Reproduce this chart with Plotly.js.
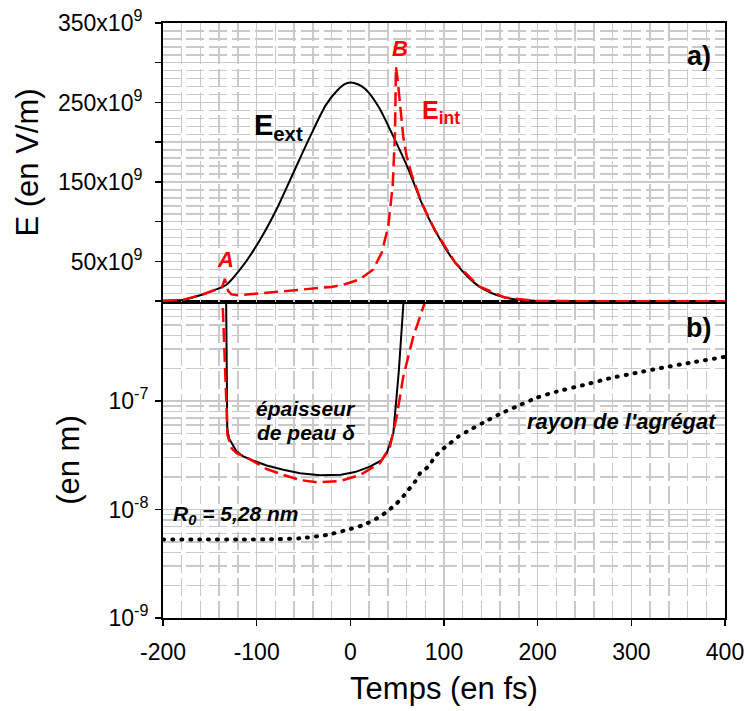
<!DOCTYPE html>
<html>
<head>
<meta charset="utf-8">
<script src="https://cdn.plot.ly/plotly-3.0.1.min.js"></script>
<style>html,body{margin:0;padding:0;background:#fff;}</style>
</head>
<body>
<div id="chart" style="width:745px;height:711px;"></div>
<script>
// ---- panel a) : fields, in units of 10^9 V/m ----
var tExt = [-200, -188, -179, -157, -145, -132, -115, -97, -79, -61, -43, -26, -14, -6, 0, 8, 16, 30, 46, 62, 76, 90, 112, 137, 165, 197, 250, 300, 400];
var eExt = [0.5, 1.0, 1.6, 8.8, 14, 21, 44, 76, 115, 161, 207, 247, 265, 273, 275, 273, 267, 245, 207, 166, 124, 90, 48.5, 19, 4.6, 0.4, 0, 0, 0];

var tInt = [-200, -188, -179, -157, -145, -137, -134, -130.5, -127, -120, -105, -86, -60, -43, -20, -5.7, 10.3, 24.5, 33.5, 40.5, 45.2, 47.7, 48.7, 50.2, 51.5, 53, 56.5, 60, 65, 76, 90, 112, 137, 165, 197, 250, 300, 400];
var eInt = [0.5, 1.0, 1.6, 8.8, 14, 17.5, 28, 13, 8.5, 7.5, 9, 11, 13.5, 15, 18, 21.3, 27.6, 40, 61, 94.5, 145, 212, 295, 282, 265, 249, 207, 183, 161, 124, 90, 48.5, 19, 4.6, 0.4, 0, 0, 0];

// ---- panel b) : lengths in m ----
var tSkinExt = [-132.7, -131.4, -129.5, -126.7, -121.3, -114.3, -103.6, -89.3, -71.6, -53.7, -32.4, -10, 5, 21, 33.5, 38.8, 42.3, 45.9, 51.8, 56.5, 57.8];
var skinExt = [1.1e-6, 5.6e-8, 4.5e-8, 4.07e-8, 3.41e-8, 3.09e-8, 2.82e-8, 2.54e-8, 2.32e-8, 2.16e-8, 2.07e-8, 2.09e-8, 2.21e-8, 2.48e-8, 2.85e-8, 3.29e-8, 4.07e-8, 5.03e-8, 1.9e-7, 7.9e-7, 1.1e-6];

var tSkinInt = [-136.8, -136.3, -132, -131.3, -126.7, -121.3, -107, -89.3, -71.6, -53.7, -35.9, -11, 10.3, 31.7, 42.3, 49.5, 56.5, 67.2, 78.6, 81];
var skinInt = [1.1e-6, 7.9e-7, 7.97e-8, 4.87e-8, 3.66e-8, 3.3e-8, 2.9e-8, 2.36e-8, 2.08e-8, 1.87e-8, 1.78e-8, 1.83e-8, 2.08e-8, 2.67e-8, 3.79e-8, 7.16e-8, 1.67e-7, 3.92e-7, 7.67e-7, 1.05e-6];

var tRad = [-200, -160, -120, -80, -53.7, -25.2, -3.9, 13.8, 31.7, 38.8, 47.7, 54.8, 61.9, 69, 74.4, 83.2, 90.4, 97.5, 106.4, 115.3, 124.2, 141.9, 159.8, 177.6, 199, 220.3, 248.7, 277.2, 305.7, 334.1, 362.6, 400];
var rad = [5.28e-9, 5.28e-9, 5.29e-9, 5.32e-9, 5.43e-9, 5.82e-9, 6.48e-9, 7.19e-9, 8.59e-9, 9.55e-9, 1.10e-8, 1.27e-8, 1.51e-8, 1.80e-8, 2.16e-8, 2.48e-8, 3.07e-8, 3.53e-8, 4.07e-8, 4.69e-8, 5.21e-8, 6.3e-8, 7.6e-8, 8.9e-8, 1.07e-7, 1.22e-7, 1.40e-7, 1.62e-7, 1.82e-7, 2.03e-7, 2.25e-7, 2.55e-7];

// ---- tick labels ----
var xTicks = [-200, -100, 0, 100, 200, 300, 400];
var xTickText = ['-200', '-100', '0', '100', '200', '300', '400'];
var eTicks = [0, 50, 100, 150, 200, 250, 300, 350];
var eTickText = ['', '50x10<sup>9</sup>', '', '150x10<sup>9</sup>', '', '250x10<sup>9</sup>', '', '350x10<sup>9</sup>'];
var lTicks = [1e-9, 1e-8, 1e-7, 1e-6];
var lTickText = ['10<sup>-9</sup>', '10<sup>-8</sup>', '10<sup>-7</sup>', '10<sup>-6</sup>'];

var FONT = 'Liberation Sans, Arial, Helvetica, sans-serif';
var GRID = '#c9c9c9';

var logMinor = [];
[-9, -8, -7].forEach(function (d) { for (var k = 2; k <= 9; k++) logMinor.push(k * Math.pow(10, d)); });

var traces = [
  {x: tExt, y: eExt, xaxis: 'x2', yaxis: 'y2', mode: 'lines', line: {color: '#000', width: 2, shape: 'spline', smoothing: 0.8}, hoverinfo: 'skip'},
  {x: tInt, y: eInt, xaxis: 'x2', yaxis: 'y2', mode: 'lines', line: {color: '#ff0000', width: 2.5, dash: '14px,6px'}, hoverinfo: 'skip'},
  {x: tSkinExt, y: skinExt, xaxis: 'x', yaxis: 'y', mode: 'lines', line: {color: '#000', width: 2}, hoverinfo: 'skip'},
  {x: tSkinInt, y: skinInt, xaxis: 'x', yaxis: 'y', mode: 'lines', line: {color: '#ff0000', width: 2.5, dash: '14px,6px'}, hoverinfo: 'skip'},
  {x: tRad, y: rad, xaxis: 'x', yaxis: 'y', mode: 'lines', line: {color: '#000', width: 4, dash: '1px,8px', shape: 'spline', smoothing: 0.6}, hoverinfo: 'skip'}
];

function ann(x, y, xref, yref, text, size, color, xanchor) {
  return {x: x, y: y, xref: xref, yref: yref, text: text, showarrow: false,
          font: {family: FONT, size: size, color: color}, xanchor: xanchor || 'center', yanchor: 'middle'};
}

var annotations = [
  ann(-105, 219, 'x2', 'y2', '<b>E<sub>ext</sub></b>', 29, '#000', 'left'),
  ann(74.4, 238, 'x2', 'y2', '<b>E<sub>int</sub></b>', 25, '#ff0000', 'left'),
  ann(-133.8, 52, 'x2', 'y2', '<b><i>A</i></b>', 22, '#ff0000'),
  ann(52.5, 318, 'x2', 'y2', '<b><i>B</i></b>', 22, '#ff0000'),
  ann(372, 308, 'x2', 'y2', '<b>a)</b>', 27, '#000'),
  ann(372, -6.327, 'x', 'y', '<b>b)</b>', 27, '#000'),
  ann(-47, -7.065, 'x', 'y', '<b><i>épaisseur</i></b>', 21, '#000'),
  ann(-47, -7.29, 'x', 'y', '<b><i>de peau δ</i></b>', 21, '#000'),
  ann(394, -7.189, 'x', 'y', '<b><i>rayon de l\'agrégat</i></b>', 22, '#000', 'right'),
  ann(-191.5, -8.05, 'x', 'y', '<b><i>R<sub>0</sub> = 5,28 nm</i></b>', 21, '#000', 'left')
];

var commonX = {
  range: [-200, 400], tickmode: 'array', tickvals: xTicks, ticktext: xTickText,
  showline: true, linecolor: '#000', linewidth: 2, mirror: true, zeroline: false,
  showgrid: true, gridcolor: GRID, gridwidth: 1.5, layer: 'below traces',
  minor: {tickmode: 'linear', tick0: 0, dtick: 20, showgrid: true, gridcolor: GRID, gridwidth: 1.5, griddash: '18px,5px', ticks: ''}
};

var layout = {
  width: 745, height: 711,
  margin: {l: 163, r: 20, t: 23, b: 93, pad: 0},
  paper_bgcolor: '#fff', plot_bgcolor: '#fff',
  showlegend: false,
  font: {family: FONT, color: '#000', size: 23},
  xaxis: Object.assign({}, commonX, {
    domain: [0, 1], anchor: 'y',
    ticks: 'outside', ticklen: 6, tickwidth: 1.5, tickcolor: '#000',
    tickfont: {family: FONT, size: 23, color: '#000'}, ticklabelstandoff: 6,
    title: {text: 'Temps (en fs)', font: {family: FONT, size: 31, color: '#000'}, standoff: 14}
  }),
  xaxis2: Object.assign({}, commonX, {
    domain: [0, 1], anchor: 'y2', matches: 'x',
    ticks: '', showticklabels: false
  }),
  yaxis: {
    domain: [0, 0.5311], anchor: 'x', type: 'log', range: [-9, -6.088],
    tickmode: 'array', tickvals: lTicks, ticktext: lTickText,
    ticks: 'outside', ticklen: 6, tickwidth: 1.5, tickcolor: '#000',
    tickfont: {family: FONT, size: 23, color: '#000'}, ticklabelstandoff: 2,
    showline: true, linecolor: '#000', linewidth: 2, mirror: true, zeroline: false,
    showgrid: true, gridcolor: GRID, gridwidth: 1.5, layer: 'below traces',
    minor: {tickmode: 'array', tickvals: logMinor, showgrid: true, gridcolor: GRID, gridwidth: 1.5, griddash: '18px,5px', ticks: ''},
    title: {text: '(en m)', font: {family: FONT, size: 31, color: '#000'}, standoff: 20}
  },
  yaxis2: {
    domain: [0.5311, 1], anchor: 'x2', range: [-1, 350],
    tickmode: 'array', tickvals: eTicks, ticktext: eTickText,
    ticks: 'outside', ticklen: 6, tickwidth: 1.5, tickcolor: '#000',
    tickfont: {family: FONT, size: 23, color: '#000'}, ticklabelstandoff: 8,
    showline: true, linecolor: '#000', linewidth: 2, mirror: true, zeroline: false,
    showgrid: true, gridcolor: GRID, gridwidth: 1.5, layer: 'below traces',
    minor: {tickmode: 'linear', tick0: 0, dtick: 10, showgrid: true, gridcolor: GRID, gridwidth: 1.5, griddash: '18px,5px', ticks: ''},
    title: {text: 'E (en V/m)', font: {family: FONT, size: 31, color: '#000'}, standoff: 10}
  },
  annotations: annotations
};

Plotly.newPlot('chart', traces, layout, {displayModeBar: false, staticPlot: true}).then(function () {
  document.querySelectorAll('path.js-line').forEach(function (p) {
    var d = p.style.strokeDasharray || '';
    if (d.indexOf('1px') === 0) { p.style.strokeLinecap = 'round'; }
  });
});
</script>
</body>
</html>
